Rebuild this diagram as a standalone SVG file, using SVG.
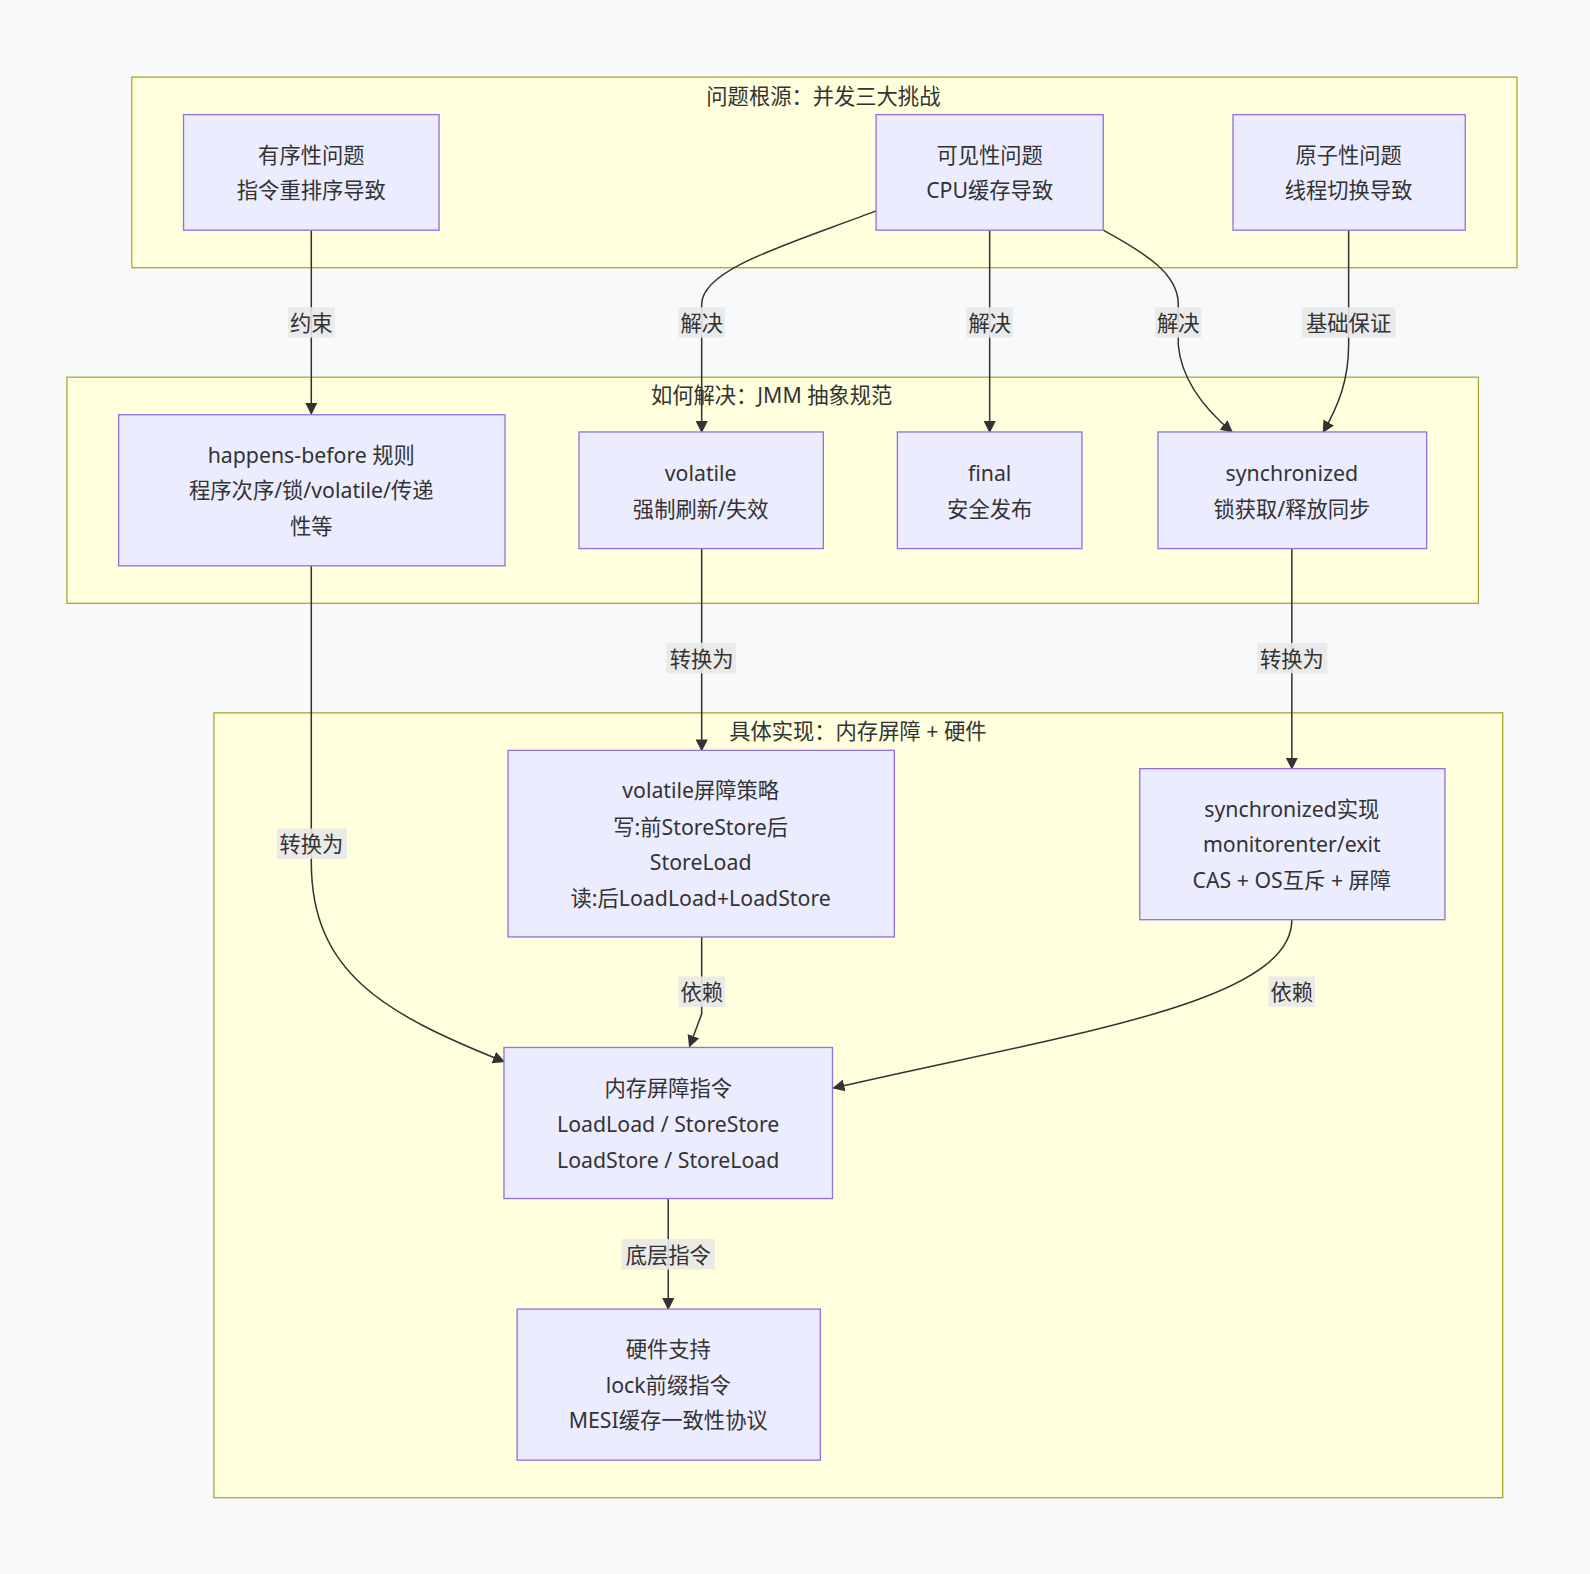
<svg xmlns="http://www.w3.org/2000/svg" width="1590" height="1574" viewBox="0 0 1590 1574">
<style>
text{font-family:"Noto Sans","Noto Sans CJK SC",sans-serif;font-size:21px;fill:#333;text-anchor:middle;dominant-baseline:central}
.cl{fill:#ffffde;stroke:#aaaa33;stroke-width:1.3}
.nd{fill:#ececff;stroke:#9370db;stroke-width:1.3}
.e{fill:none;stroke:#333;stroke-width:1.5;marker-end:url(#ar)}
.lb{fill:#e8e8e8;opacity:0.9}
</style>
<defs><marker id="ar" viewBox="0 0 10 10" refX="9" refY="5" markerWidth="8" markerHeight="8" orient="auto"><path d="M0,0L10,5L0,10z" fill="#333"/></marker></defs>
<rect width="1590" height="1574" fill="#f8f9fb"/>
<g transform="scale(1.014)">
<g id="clusters">
<rect class="cl" x="130" y="76" width="1366" height="188"/><text x="812" y="94">问题根源：并发三大挑战</text>
<rect class="cl" x="66" y="372" width="1392" height="223"/><text x="761" y="389">如何解决：JMM 抽象规范</text>
<rect class="cl" x="211" y="703" width="1271" height="774"/><text x="846" y="720">具体实现：内存屏障 + 硬件</text>
</g>
<g id="edges">
<path class="e" d="M307,227V408"/>
<path class="e" d="M864,208C780,240 692,265 692,300V426"/>
<path class="e" d="M976,227V426"/>
<path class="e" d="M1088,227C1130,250 1162,270 1162,300V340C1165,375 1190,405 1215,426"/>
<path class="e" d="M1330,227V340C1330,375 1320,400 1305,426"/>
<path class="e" d="M307,558V850C307,960 380,1000 497,1047"/>
<path class="e" d="M692,541V740"/>
<path class="e" d="M1274,541V758"/>
<path class="e" d="M692,924V1000L680,1032"/>
<path class="e" d="M1274,907C1274,990 1050,1020 822,1073"/>
<path class="e" d="M659,1182V1291"/>
</g>
<g id="labels">
<rect class="lb" x="284" y="303" width="46" height="30"/><text x="307" y="318">约束</text>
<rect class="lb" x="669" y="303" width="46" height="30"/><text x="692" y="318">解决</text>
<rect class="lb" x="953" y="303" width="46" height="30"/><text x="976" y="318">解决</text>
<rect class="lb" x="1139" y="303" width="46" height="30"/><text x="1162" y="318">解决</text>
<rect class="lb" x="1284" y="303" width="92" height="30"/><text x="1330" y="318">基础保证</text>
<rect class="lb" x="273" y="817" width="69" height="30"/><text x="307" y="832">转换为</text>
<rect class="lb" x="657" y="634" width="69" height="30"/><text x="692" y="649">转换为</text>
<rect class="lb" x="1240" y="634" width="69" height="30"/><text x="1274" y="649">转换为</text>
<rect class="lb" x="669" y="963" width="46" height="30"/><text x="692" y="978">依赖</text>
<rect class="lb" x="1251" y="963" width="46" height="30"/><text x="1274" y="978">依赖</text>
<rect class="lb" x="613" y="1222" width="92" height="30"/><text x="659" y="1237">底层指令</text>
</g>
<g id="A"><rect class="nd" x="181" y="113" width="252" height="114"/><text x="307" y="152">有序性问题</text><text x="307" y="187">指令重排序导致</text></g>
<g id="B"><rect class="nd" x="864" y="113" width="224" height="114"/><text x="976" y="152">可见性问题</text><text x="976" y="187">CPU缓存导致</text></g>
<g id="C"><rect class="nd" x="1216" y="113" width="229" height="114"/><text x="1330" y="152">原子性问题</text><text x="1330" y="187">线程切换导致</text></g>
<g id="D"><rect class="nd" x="117" y="409" width="381" height="149"/><text x="307" y="448">happens-before 规则</text><text x="307" y="483">程序次序/锁/volatile/传递</text><text x="307" y="518">性等</text></g>
<g id="E"><rect class="nd" x="571" y="426" width="241" height="115"/><text x="691" y="466">volatile</text><text x="691" y="501">强制刷新/失效</text></g>
<g id="F"><rect class="nd" x="885" y="426" width="182" height="115"/><text x="976" y="466">final</text><text x="976" y="501">安全发布</text></g>
<g id="G"><rect class="nd" x="1142" y="426" width="265" height="115"/><text x="1274" y="466">synchronized</text><text x="1274" y="501">锁获取/释放同步</text></g>
<g id="H"><rect class="nd" x="501" y="740" width="381" height="184"/><text x="691" y="779">volatile屏障策略</text><text x="691" y="815">写:前StoreStore后</text><text x="691" y="850">StoreLoad</text><text x="691" y="885">读:后LoadLoad+LoadStore</text></g>
<g id="I"><rect class="nd" x="1124" y="758" width="301" height="149"/><text x="1274" y="797">synchronized实现</text><text x="1274" y="832">monitorenter/exit</text><text x="1274" y="867">CAS + OS互斥 + 屏障</text></g>
<g id="J"><rect class="nd" x="497" y="1033" width="324" height="149"/><text x="659" y="1072">内存屏障指令</text><text x="659" y="1108">LoadLoad / StoreStore</text><text x="659" y="1143">LoadStore / StoreLoad</text></g>
<g id="K"><rect class="nd" x="510" y="1291" width="299" height="149"/><text x="659" y="1330">硬件支持</text><text x="659" y="1365">lock前缀指令</text><text x="659" y="1400">MESI缓存一致性协议</text></g>
</g>
</svg>
